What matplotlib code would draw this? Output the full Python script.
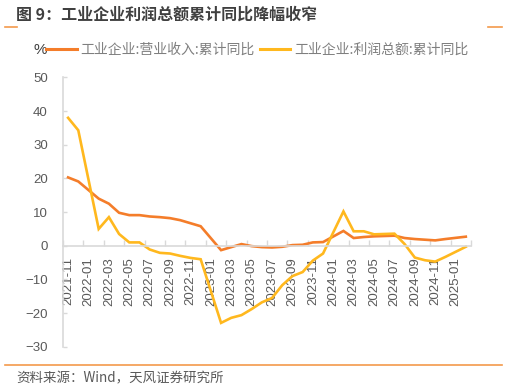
import numpy as np
import pandas as pd
import matplotlib
import matplotlib.pyplot as plt
from matplotlib.lines import Line2D

matplotlib.use('Agg')

plt.rcParams['font.family'] = ['Liberation Sans', 'Noto Sans CJK SC', 'DejaVu Sans']

# monthly categories 2021-11 .. 2025-02 (January has no release)
months = [str(p) for p in pd.period_range('2021-11', '2025-02', freq='M')]

revenue = [20.3, 19.1, None, 14.0, 12.5, 9.8, 9.1, 9.1, 8.7, 8.5, 8.2, 7.6, 6.7, 5.8,
           None, -1.3, -0.4, 0.5, -0.1, -0.4, -0.5, -0.3, 0.2, 0.3, 1.0, 1.1,
           None, 4.4, 2.3, 2.6, 2.8, 2.9, 3.0, 2.3, 2.0, 1.8, 1.6, 2.0,
           None, 2.7]
profit = [38.0, 34.3, None, 5.0, 8.5, 3.5, 1.0, 1.0, -1.1, -2.1, -2.3, -3.0, -3.6, -4.0,
          None, -22.9, -21.4, -20.6, -18.8, -16.8, -15.5, -11.7, -9.0, -7.8, -4.4, -2.3,
          None, 10.2, 4.3, 4.3, 3.4, 3.5, 3.6, 0.5, -3.5, -4.3, -4.7, -3.3,
          None, -0.3]

names = ['工业企业:营业收入:累计同比', '工业企业:利润总额:累计同比']
colors = ['#F47D2A', '#FFB81E']

title = '图 9：工业企业利润总额累计同比降幅收窄'
source = '资料来源：Wind，天风证券研究所'

cjk = ['Noto Sans CJK SC', 'DejaVu Sans']
grey = '#595959'

fig = plt.figure(figsize=(5.08, 3.89), dpi=100)
ax = fig.add_axes([0.124, 0.1085, 0.803, 0.6925])

x = np.arange(len(months))
for vals, c in zip([revenue, profit], colors):
    s = pd.Series(vals, dtype=float)
    m = s.notna().values
    # connect across the missing January points
    ax.plot(x[m], s.values[m], color=c, lw=1.9, solid_joinstyle='miter')

ax.set_xlim(-0.5, len(months) - 0.5)
ax.set_ylim(-30, 50)
ax.set_yticks(range(-30, 51, 10))

# labels every 2 months at the category, tick marks on the boundaries
ax.set_xticks(x[::2])
ax.set_xticklabels(months[::2])
ax.set_xticks(np.arange(-0.5, len(months), 2), minor=True)
ax.tick_params(axis='x', which='major', length=0, pad=8, labelsize=9.5, colors=grey,
               labelrotation=90)
ax.tick_params(axis='x', which='minor', length=4, direction='in', color='#d9d9d9', width=1)
ax.tick_params(axis='y', length=3, direction='in', pad=11, labelsize=9.5,
               colors=grey, color='#d9d9d9', width=1)

for side in ['top', 'right']:
    ax.spines[side].set_visible(False)
ax.spines['bottom'].set_position(('data', 0))
ax.spines['bottom'].set_color('#d9d9d9')
ax.spines['left'].set_color('#d9d9d9')
ax.spines['bottom'].set_linewidth(1.2)
ax.spines['left'].set_linewidth(1.2)

# legend row
fig.text(34 / 508, 1 - 50 / 389, '%', fontsize=11, color='#404040', va='center', ha='left')
handles = [Line2D([0], [0], color=c, lw=2.2) for c in colors]
leg = fig.legend(handles, names, loc='center left', bbox_to_anchor=(46 / 508, 1 - 50 / 389),
                 ncol=2, frameon=False, handlelength=2.2, handletextpad=0.25,
                 columnspacing=0.4, borderpad=0, borderaxespad=0,
                 prop={'family': cjk, 'size': 10})
for t in leg.get_texts():
    t.set_color('#7f7f7f')

# title, decorations and source
fig.text(16 / 508, 1 - 15 / 389, title, fontsize=11.5, fontweight='bold', color='#404040',
         va='center', ha='left', family=cjk)
deco = '#F39A4C'
fig.add_artist(Line2D([5 / 508, 17 / 508], [1 - 27 / 389] * 2, color=deco, lw=1.2))
fig.add_artist(Line2D([488 / 508, 502 / 508], [1 - 27 / 389] * 2, color=deco, lw=1.2))
fig.add_artist(Line2D([5 / 508, 502 / 508], [1 - 365 / 389] * 2, color=deco, lw=1.2))
fig.text(16 / 508, 1 - 378 / 389, source, fontsize=9.7, color=grey, va='center', ha='left',
         family=cjk)

fig.savefig('out.png', dpi=100)
plt.close(fig)
